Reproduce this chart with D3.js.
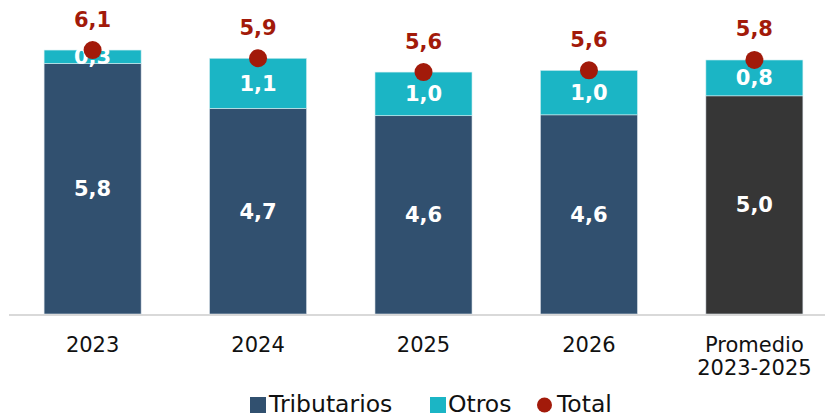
<!DOCTYPE html>
<html>
<head>
<meta charset="utf-8">
<script src="https://cdn.jsdelivr.net/npm/d3@7"></script>
<style>
  body { margin: 0; background: #fff; }
  svg { display: block; font-family: "DejaVu Sans", Verdana, sans-serif; }
</style>
</head>
<body>
<div id="chart"></div>
<script>
var categories = ["2023", "2024", "2025", "2026", "Promedio 2023-2025"];
var tributarios = [5.8, 4.76, 4.59, 4.61, 5.05];
var otros = [0.31, 1.16, 1.01, 1.03, 0.83];
var total = [6.11, 5.92, 5.6, 5.64, 5.88];
var tribLabels = ["5,8", "4,7", "4,6", "4,6", "5,0"];
var otrosLabels = ["0,3", "1,1", "1,0", "1,0", "0,8"];
var totalLabels = ["6,1", "5,9", "5,6", "5,6", "5,8"];

var width = 825, height = 417;
var baseY = 314;

var svg = d3.select("#chart").append("svg")
  .attr("width", width)
  .attr("height", height);

var x = d3.scaleBand()
  .domain(categories)
  .range([11, 836])
  .paddingInner(0.4135)
  .paddingOuter(0.2);

var y = d3.scaleLinear()
  .domain([0, 7])
  .range([baseY, baseY - 7 * 43.2]);

var rows = categories.map(function (c, i) {
  return { cat: c, trib: tributarios[i], otros: otros[i], total: total[i], i: i };
});

// tributarios
svg.selectAll("rect.trib").data(rows).enter().append("rect")
  .attr("class", "trib")
  .attr("x", function (d) { return x(d.cat); })
  .attr("width", x.bandwidth())
  .attr("y", function (d) { return y(d.trib); })
  .attr("height", function (d) { return y(0) - y(d.trib); })
  .attr("fill", function (d) { return d.i == 4 ? "#363636" : "#31506f"; })
  .attr("stroke", "#dbe3ea").attr("stroke-width", 0.6);

// otros
svg.selectAll("rect.otros").data(rows).enter().append("rect")
  .attr("class", "otros")
  .attr("x", function (d) { return x(d.cat); })
  .attr("width", x.bandwidth())
  .attr("y", function (d) { return y(d.trib + d.otros); })
  .attr("height", function (d) { return y(d.trib) - y(d.trib + d.otros); })
  .attr("fill", "#1bb5c5")
  .attr("stroke", "#d5eff2").attr("stroke-width", 0.6);

// axis line
svg.append("line")
  .attr("x1", 9).attr("x2", width)
  .attr("y1", baseY + 1).attr("y2", baseY + 1)
  .attr("stroke", "#d9d9d9").attr("stroke-width", 2);

// segment labels
svg.selectAll("text.tribv").data(rows).enter().append("text")
  .attr("x", function (d) { return x(d.cat) + x.bandwidth() / 2; })
  .attr("y", function (d) { return (y(0) + y(d.trib)) / 2 + 7.5; })
  .attr("text-anchor", "middle")
  .attr("font-size", 21).attr("font-weight", "bold").attr("fill", "#fff")
  .text(function (d) { return tribLabels[d.i]; });

svg.selectAll("text.otrosv").data(rows).enter().append("text")
  .attr("x", function (d) { return x(d.cat) + x.bandwidth() / 2; })
  .attr("y", function (d) { return (y(d.trib) + y(d.trib + d.otros)) / 2 + 7.5; })
  .attr("text-anchor", "middle")
  .attr("font-size", 21).attr("font-weight", "bold").attr("fill", "#fff")
  .text(function (d) { return otrosLabels[d.i]; });

// total dots
svg.selectAll("circle.tot").data(rows).enter().append("circle")
  .attr("cx", function (d) { return x(d.cat) + x.bandwidth() / 2; })
  .attr("cy", function (d) { return y(d.total); })
  .attr("r", 9)
  .attr("fill", "#a21a0a");

svg.selectAll("text.totv").data(rows).enter().append("text")
  .attr("x", function (d) { return x(d.cat) + x.bandwidth() / 2; })
  .attr("y", function (d) { return y(d.total) - 23.5; })
  .attr("text-anchor", "middle")
  .attr("font-size", 21).attr("font-weight", "bold").attr("fill", "#a21a0a")
  .text(function (d) { return totalLabels[d.i]; });

// category labels
var xl = svg.selectAll("text.cat").data(rows).enter().append("text")
  .attr("text-anchor", "middle")
  .attr("font-size", 21).attr("fill", "#111")
  .attr("y", 352);
xl.each(function (d) {
  var t = d3.select(this);
  var cx = x(d.cat) + x.bandwidth() / 2;
  var parts = d.cat.indexOf("Promedio") == 0 ? ["Promedio", "2023-2025"] : [d.cat];
  parts.forEach(function (p, k) {
    t.append("tspan").attr("x", cx).attr("dy", k == 0 ? 0 : 23).text(p);
  });
});

// legend
var leg = svg.append("g").attr("font-size", 23.5).attr("fill", "#111");
leg.append("rect").attr("x", 250).attr("y", 397).attr("width", 16).attr("height", 16).attr("fill", "#31506f");
leg.append("text").attr("x", 269).attr("y", 412).text("Tributarios");
leg.append("rect").attr("x", 430).attr("y", 397).attr("width", 16).attr("height", 16).attr("fill", "#1bb5c5");
leg.append("text").attr("x", 448).attr("y", 412).text("Otros");
leg.append("circle").attr("cx", 544.5).attr("cy", 405).attr("r", 7.5).attr("fill", "#a21a0a");
leg.append("text").attr("x", 557).attr("y", 412).text("Total");
</script>
</body>
</html>
